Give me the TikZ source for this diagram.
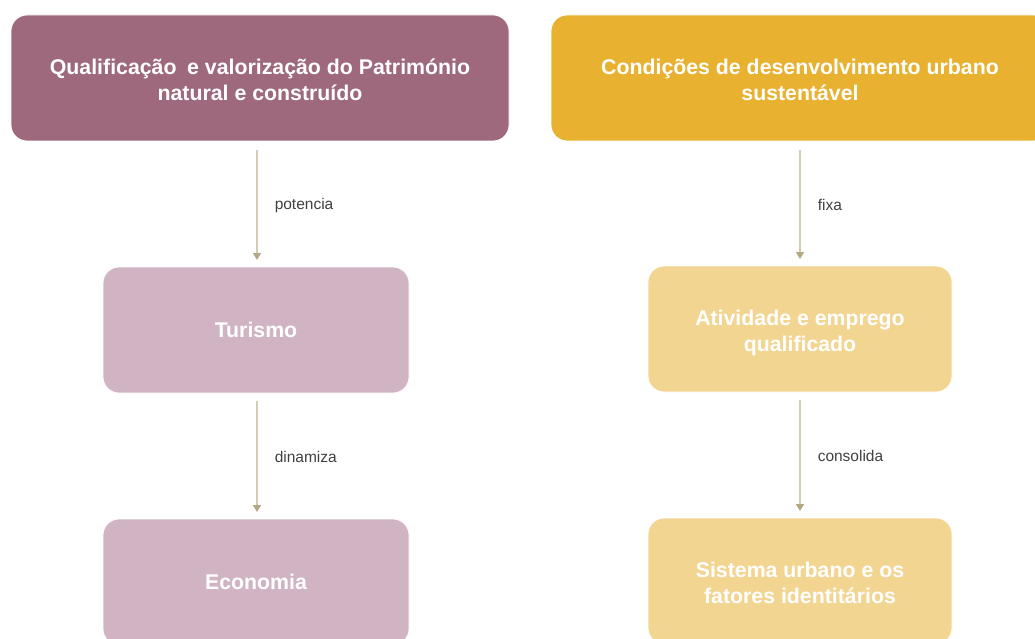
\documentclass[tikz,border=0pt]{standalone}
\usepackage{fontspec}
\setmainfont{Liberation Sans}
\usetikzlibrary{arrows.meta}
\definecolor{plumdark}{HTML}{9E687D}
\definecolor{plumlight}{HTML}{D1B4C3}
\definecolor{golddark}{HTML}{E8B130}
\definecolor{goldlight}{HTML}{F3D592}
\definecolor{arrowline}{HTML}{D3CCB6}
\definecolor{arrowhead}{HTML}{B3A884}
\definecolor{labelgray}{HTML}{404040}
\newcommand\twoline[2]{\begin{tabular}{@{}c@{}}\rule{0pt}{26.2pt}#1\\#2\end{tabular}}
\tikzset{
  box/.style={rectangle, rounded corners=16pt, draw=white, line width=0.8pt,
    minimum width=498pt, minimum height=126pt, inner sep=0pt, align=center,
    text=white, font=\fontsize{21.3}{26}\selectfont\bfseries},
  smallbox/.style={box, minimum width=306pt},
  flow/.style={draw=arrowline, line width=1.5pt,
    -{Triangle[width=8pt,length=7pt,color=arrowhead,fill=arrowhead]}},
  lbl/.style={text=labelgray, font=\fontsize{15.5}{18}\selectfont, anchor=west, inner sep=0pt}
}
\begin{document}
\begin{tikzpicture}[x=1pt,y=-1pt]
\useasboundingbox (0,0) rectangle (1035,639);
\clip (0,0) rectangle (1035,639);
\node[box, fill=plumdark] (pat) at (260,78) {\twoline{Qualificação\hspace{0.5em}e valorização do Património}{natural e construído}};
\node[box, fill=golddark] (cond) at (800,78) {\twoline{Condições de desenvolvimento urbano}{sustentável}};
\node[smallbox, fill=plumlight] (tur) at (256,330) {Turismo};
\node[smallbox, fill=plumlight] (eco) at (256,582) {Economia};
\node[smallbox, fill=goldlight, minimum width=304pt] (ativ) at (800,329) {\twoline{Atividade e emprego}{qualificado}};
\node[smallbox, fill=goldlight, minimum width=304pt] (sist) at (800,581) {\twoline{Sistema urbano e os}{fatores identitários}};
\coordinate (a1s) at (257,150); \coordinate (a1e) at (257,260);
\coordinate (a2s) at (257,401); \coordinate (a2e) at (257,512);
\coordinate (a3s) at (800,150); \coordinate (a3e) at (800,259);
\coordinate (a4s) at (800,400); \coordinate (a4e) at (800,511);
\draw[flow] (a1s) -- (a1e) node[lbl, pos=0.5, xshift=17pt] (l1) {potencia};
\draw[flow] (a2s) -- (a2e) node[lbl, pos=0.5, xshift=17pt] (l2) {dinamiza};
\draw[flow] (a3s) -- (a3e) node[lbl, pos=0.5, xshift=17pt] (l3) {fixa};
\draw[flow] (a4s) -- (a4e) node[lbl, pos=0.5, xshift=17pt] (l4) {consolida};
\end{tikzpicture}
\end{document}
